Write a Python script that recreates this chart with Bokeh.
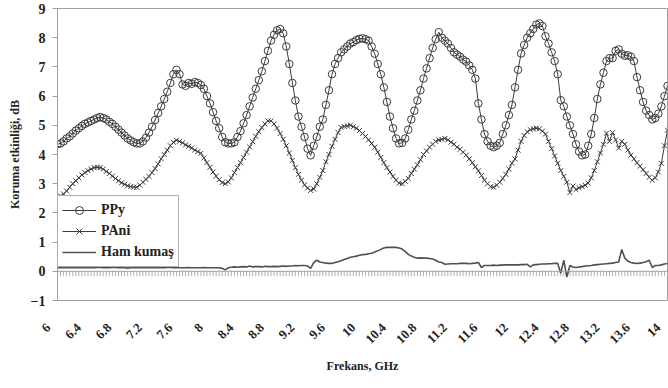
import math
import numpy as np
from bokeh.plotting import figure
from bokeh.models import (FixedTicker, Span, Legend, LegendItem, Range1d, ColumnDataSource)
from bokeh.core.properties import value
from bokeh.embed import file_html
from bokeh.resources import INLINE

# ---------------- data ----------------
freq = [round(6 + 0.04 * i, 2) for i in range(201)]  # GHz grid (201 categories)

ppy = [
    4.35, 4.38, 4.45, 4.55, 4.62, 4.72, 4.82, 4.90, 4.98, 5.05,
    5.10, 5.15, 5.20, 5.25, 5.28, 5.25, 5.20, 5.12, 5.05, 4.95,
    4.85, 4.75, 4.65, 4.55, 4.48, 4.42, 4.38, 4.38, 4.45, 4.58,
    4.75, 4.95, 5.18, 5.42, 5.65, 5.90, 6.15, 6.45, 6.75, 6.90,
    6.75, 6.40, 6.35, 6.45, 6.42, 6.48, 6.45, 6.38, 6.25, 6.00,
    5.75, 5.45, 5.15, 4.90, 4.60, 4.42, 4.38, 4.38, 4.42, 4.60,
    4.80, 5.07, 5.35, 5.65, 5.95, 6.25, 6.55, 6.85, 7.20, 7.55,
    7.90, 8.10, 8.25, 8.30, 8.15, 7.70, 7.10, 6.45, 5.85, 5.30,
    4.95, 4.60, 4.20, 3.97, 4.30, 4.60, 4.95, 5.20, 5.70, 6.20,
    6.75, 7.10, 7.30, 7.50, 7.60, 7.70, 7.80, 7.85, 7.92, 7.96,
    7.98, 7.95, 7.90, 7.70, 7.45, 7.10, 6.75, 6.30, 5.80, 5.30,
    4.90, 4.55, 4.38, 4.40, 4.55, 4.85, 5.20, 5.50, 5.85, 6.20,
    6.60, 6.95, 7.30, 7.65, 7.95, 8.19, 8.00, 7.90, 7.80, 7.65,
    7.50, 7.42, 7.35, 7.25, 7.18, 7.05, 6.90, 6.60, 5.75, 5.20,
    4.70, 4.45, 4.30, 4.25, 4.30, 4.40, 4.70, 5.00, 5.35, 5.70,
    6.30, 6.90, 7.46, 7.75, 8.00, 8.15, 8.30, 8.45, 8.49, 8.40,
    8.05, 7.80, 7.50, 7.20, 6.75, 5.86, 5.65, 5.30, 5.00, 4.70,
    4.35, 4.10, 3.97, 4.00, 4.30, 4.70, 5.25, 5.90, 6.40, 6.80,
    7.20, 7.30, 7.30, 7.55, 7.60, 7.45, 7.38, 7.40, 7.35, 7.20,
    6.65, 6.20, 5.80, 5.50, 5.35, 5.20, 5.25, 5.40, 5.65, 6.00,
    6.35,
]

pani = [
    2.53, 2.58, 2.65, 2.75, 2.88, 3.00, 3.10, 3.20, 3.30, 3.38,
    3.45, 3.50, 3.55, 3.56, 3.55, 3.50, 3.42, 3.35, 3.26, 3.18,
    3.10, 3.03, 2.98, 2.93, 2.90, 2.88, 2.88, 2.95, 3.05, 3.15,
    3.25, 3.38, 3.52, 3.68, 3.85, 4.00, 4.15, 4.30, 4.42, 4.49,
    4.45, 4.40, 4.33, 4.28, 4.22, 4.15, 4.10, 4.04, 3.88, 3.72,
    3.56, 3.40, 3.26, 3.14, 3.04, 3.00, 3.06, 3.20, 3.38, 3.55,
    3.72, 3.90, 4.08, 4.26, 4.44, 4.62, 4.78, 4.92, 5.05, 5.15,
    5.15, 5.05, 4.90, 4.72, 4.52, 4.30, 4.05, 3.80, 3.55, 3.32,
    3.12, 2.96, 2.85, 2.77, 2.82, 3.00, 3.22, 3.45, 3.75, 4.00,
    4.28, 4.52, 4.75, 4.93, 4.96, 4.98, 5.00, 4.95, 4.90, 4.82,
    4.72, 4.62, 4.50, 4.38, 4.25, 4.08, 3.90, 3.72, 3.55, 3.40,
    3.25, 3.12, 3.02, 3.00, 3.08, 3.18, 3.35, 3.50, 3.65, 3.82,
    4.00, 4.12, 4.25, 4.35, 4.45, 4.50, 4.52, 4.55, 4.50, 4.42,
    4.35, 4.25, 4.18, 4.08, 3.98, 3.85, 3.72, 3.58, 3.44, 3.28,
    3.12, 3.00, 2.90, 2.88, 2.95, 3.05, 3.18, 3.32, 3.50, 3.70,
    3.85, 4.15, 4.45, 4.65, 4.78, 4.85, 4.88, 4.90, 4.88, 4.80,
    4.70, 4.45, 4.20, 3.95, 3.70, 3.45, 3.25, 3.05, 2.70, 2.92,
    2.80, 2.86, 2.90, 2.95, 3.02, 3.20, 3.45, 3.75, 4.05, 4.35,
    4.73, 4.45, 4.75, 4.50, 4.22, 4.45, 4.35, 4.15, 3.98, 3.85,
    3.72, 3.60, 3.48, 3.35, 3.22, 3.12, 3.20, 3.40, 3.70, 4.30,
    4.83,
]

ham = [
    0.12, 0.12, 0.13, 0.12, 0.12, 0.13, 0.12, 0.12, 0.12, 0.13, 0.12,
    0.12, 0.12, 0.13, 0.13, 0.12, 0.12, 0.12, 0.13, 0.13, 0.12,
    0.12, 0.12, 0.11, 0.12, 0.12, 0.13, 0.12, 0.12, 0.12, 0.12,
    0.13, 0.12, 0.12, 0.12, 0.12, 0.13, 0.13, 0.12, 0.12, 0.12,
    0.12, 0.12, 0.13, 0.12, 0.12, 0.12, 0.12, 0.13, 0.12, 0.12,
    0.12, 0.12, 0.12, 0.10, 0.05, 0.12, 0.14, 0.15, 0.14, 0.15,
    0.16, 0.15, 0.18, 0.15, 0.16, 0.16, 0.15, 0.17, 0.16, 0.16,
    0.17, 0.16, 0.17, 0.18, 0.17, 0.18, 0.18, 0.20, 0.19, 0.20,
    0.20, 0.18, 0.10, 0.30, 0.38, 0.32, 0.30, 0.28, 0.27, 0.27,
    0.30, 0.33, 0.36, 0.40, 0.44, 0.48, 0.50, 0.52, 0.55, 0.57,
    0.58, 0.60, 0.62, 0.66, 0.70, 0.75, 0.80, 0.82, 0.82, 0.82,
    0.82, 0.80, 0.76, 0.68, 0.58, 0.52, 0.48, 0.45, 0.46, 0.45,
    0.45, 0.44, 0.42, 0.38, 0.32, 0.30, 0.24, 0.25, 0.26, 0.26,
    0.26, 0.27, 0.27, 0.27, 0.26, 0.27, 0.28, 0.30, 0.13, 0.20,
    0.20, 0.20, 0.21, 0.20, 0.21, 0.21, 0.22, 0.22, 0.22, 0.22,
    0.22, 0.23, 0.23, 0.24, 0.15, 0.22, 0.23, 0.24, 0.25, 0.25,
    0.26, 0.26, 0.27, 0.27, -0.07, 0.38, -0.20, 0.20, 0.15, 0.13,
    0.15, 0.16, 0.18, 0.19, 0.20, 0.22, 0.23, 0.24, 0.25, 0.26,
    0.27, 0.28, 0.30, 0.32, 0.75, 0.45, 0.35, 0.30, 0.28, 0.27,
    0.28, 0.30, 0.33, 0.38, 0.13, 0.20, 0.20, 0.22, 0.25, 0.27,
]

x_ticks = [6.0, 6.4, 6.8, 7.2, 7.6, 8.0, 8.4, 8.8, 9.2, 9.6, 10.0,
           10.4, 10.8, 11.2, 11.6, 12.0, 12.4, 12.8, 13.2, 13.6, 14.0]
x_tick_labels = ["6", "6.4", "6.8", "7.2", "7.6", "8", "8.4", "8.8", "9.2", "9.6", "10",
                 "10.4", "10.8", "11.2", "11.6", "12", "12.4", "12.8", "13.2", "13.6", "14"]
y_ticks = [-1, 0, 1, 2, 3, 4, 5, 6, 7, 8, 9]

series_names = ["PPy", "PAni", "Ham kumaş"]
x_title = "Frekans, GHz"
y_title = "Koruma etkinliği, dB"

# ---------------- style ----------------
FONT = "Liberation Serif"
DARK = "#3c3c3c"
GRAY = "#a0a0a0"
TXT = "#222222"

p = figure(width=668, height=388, output_backend="svg", toolbar_location=None,
           x_range=Range1d(6, 14), y_range=Range1d(-1, 9),
           min_border_left=57, min_border_right=1, min_border_top=8, min_border_bottom=88)
p.background_fill_color = "white"
p.border_fill_color = "white"
p.outline_line_color = GRAY
p.outline_line_width = 1
p.xgrid.visible = False
p.ygrid.visible = False

# x axis (tick labels drawn as rotated, right-anchored texts just below the axis)
xa = p.xaxis[0]
xa.ticker = FixedTicker(ticks=x_ticks)
xa.major_label_overrides = {t: "" for t in x_ticks}
xa.major_tick_out = 0
xa.major_tick_in = 0
xa.minor_tick_out = 0
xa.minor_tick_in = 0
xa.axis_line_color = GRAY
xa.major_label_standoff = 0
xa.axis_label = x_title
xa.axis_label_text_font = FONT
xa.axis_label_text_font_style = "bold"
xa.axis_label_text_font_size = "12px"
xa.axis_label_text_color = TXT
xa.axis_label_standoff = 58

tick_src = ColumnDataSource(data=dict(x=x_ticks, y=[-1] * len(x_ticks), text=x_tick_labels))
p.text(x="x", y="y", text="text", source=tick_src, level="overlay",
       angle=math.pi / 4, text_align="right", text_baseline="middle",
       x_offset=-9, y_offset=25,
       text_font=value(FONT), text_font_style="bold", text_font_size="13px",
       text_color=TXT)

# y axis
ya = p.yaxis[0]
ya.ticker = FixedTicker(ticks=y_ticks)
ya.major_tick_out = 5
ya.major_tick_in = 0
ya.minor_tick_out = 0
ya.minor_tick_in = 0
ya.major_tick_line_color = GRAY
ya.axis_line_color = GRAY
ya.major_label_standoff = 7
ya.major_label_text_font = FONT
ya.major_label_text_font_style = "bold"
ya.major_label_text_font_size = "14px"
ya.major_label_text_color = TXT
ya.axis_label = y_title
ya.axis_label_text_font = FONT
ya.axis_label_text_font_style = "bold"
ya.axis_label_text_font_size = "12px"
ya.axis_label_text_color = TXT
ya.axis_label_standoff = 6

# zero line with category tick marks
p.add_layout(Span(location=0, dimension="width", line_color=GRAY, line_width=1))
p.segment(x0=freq, y0=[0] * len(freq), x1=freq, y1=[-0.17] * len(freq),
          line_color="#b0b0b0", line_width=1)

# series
r_ham = p.line(freq, ham, line_color="#505050", line_width=1.6)
r_pani_l = p.line(freq, pani, line_color=DARK, line_width=1)
r_pani_m = p.scatter(freq, pani, marker="x", size=7, line_color=DARK, line_width=1)
r_ppy_l = p.line(freq, ppy, line_color=DARK, line_width=1)
r_ppy_m = p.scatter(freq, ppy, marker="circle", size=7.5, line_color=DARK,
                    fill_alpha=0, line_width=1)

legend = Legend(items=[
    LegendItem(label=series_names[0], renderers=[r_ppy_l, r_ppy_m]),
    LegendItem(label=series_names[1], renderers=[r_pani_l, r_pani_m]),
    LegendItem(label=series_names[2], renderers=[r_ham]),
], location=(0, 33))
legend.label_text_font = FONT
legend.label_text_font_style = "bold"
legend.label_text_font_size = "14px"
legend.label_text_color = TXT
legend.border_line_color = "#606060"
legend.border_line_width = 1
legend.background_fill_color = "white"
legend.background_fill_alpha = 1
legend.glyph_width = 34
legend.glyph_height = 20
legend.label_height = 20
legend.label_standoff = 5
legend.spacing = 1
legend.padding = 4
legend.margin = 0
p.add_layout(legend, "center")

html = file_html(p, INLINE)
open("out.html", "w").write(html)
